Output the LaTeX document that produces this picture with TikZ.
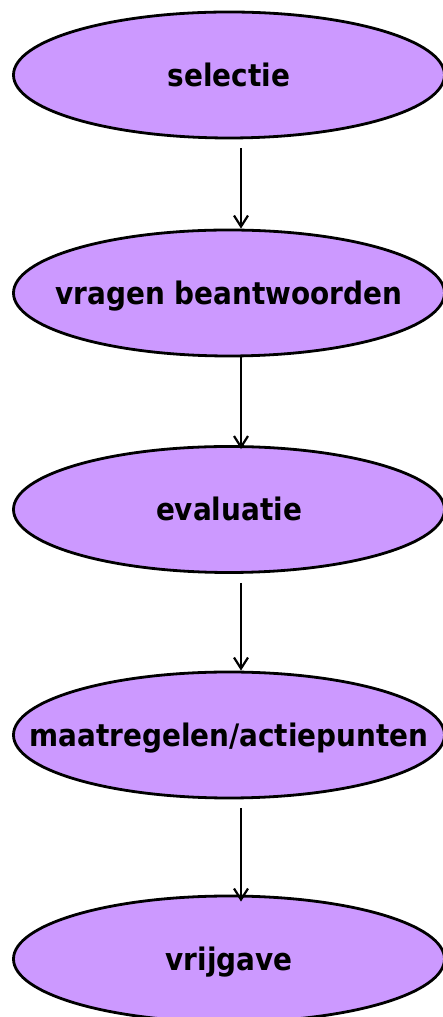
\documentclass[tikz,border=0pt]{standalone}
\usepackage{fontspec}
\newfontfamily\stagefont{DejaVu Sans Condensed}
\usetikzlibrary{shapes.geometric,arrows.meta,calc}
\definecolor{lilac}{RGB}{204,153,255}
\newcommand{\stagetext}[1]{\makebox[0pt][c]{#1}}
\begin{document}
\begin{tikzpicture}[x=1pt,y=1pt,
  stage/.style={ellipse,draw=black,line width=2.8pt,fill=lilac,minimum width=431pt,minimum height=126pt,inner sep=0pt,text height=23pt,text depth=0pt,font=\fontsize{31}{36}\stagefont\bfseries},
  arr/.style={-{Straight Barb[length=11pt,width=14pt,line width=2.2pt]},line width=2.2pt}]
\useasboundingbox (0,0) rectangle (443,1017);
\node[stage] (a) at (229,942) {\stagetext{selectie}};
\node[stage] (b) at (229,724) {\stagetext{vragen beantwoorden}};
\node[stage] (c) at (229,507.5) {\stagetext{evaluatie}};
\node[stage] (d) at (229,282) {\stagetext{maatregelen/actiepunten}};
\node[stage] (e) at (229,58) {\stagetext{vrijgave}};
\draw[arr] ([xshift=12pt,yshift=-9pt]a.south) -- ([xshift=12pt]b.north);
\draw[arr] ([xshift=12pt]b.south) -- ([xshift=12pt,yshift=-4pt]c.north);
\draw[arr] ([xshift=12pt,yshift=-9pt]c.south) -- ([xshift=12pt]d.north);
\draw[arr] ([xshift=12pt,yshift=-9pt]d.south) -- ([xshift=12pt,yshift=-7pt]e.north);
\end{tikzpicture}
\end{document}
